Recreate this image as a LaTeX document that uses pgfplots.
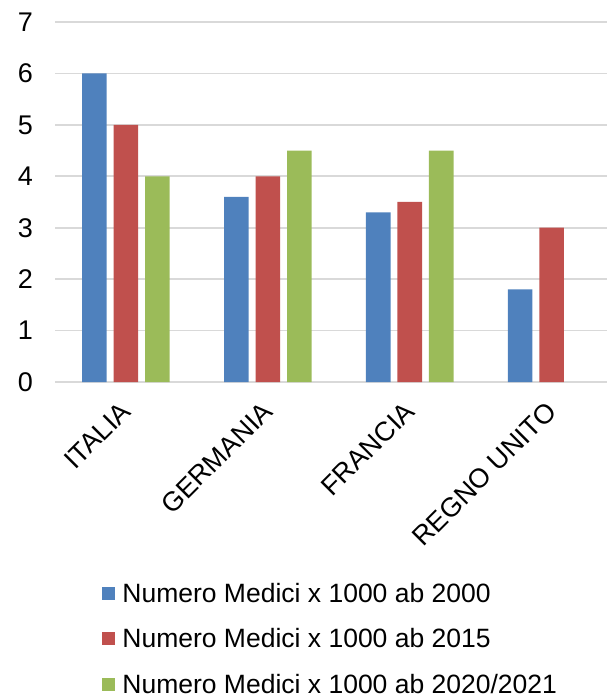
\documentclass[border=0pt]{standalone}
\usepackage{fontspec}
\setmainfont{Liberation Sans}
\usepackage{pgfplots}
\pgfplotsset{compat=1.18}

\definecolor{serA}{HTML}{4F81BD}
\definecolor{serB}{HTML}{C0504D}
\definecolor{serC}{HTML}{9BBB59}
\definecolor{gridgray}{HTML}{D9D9D9}

\begin{document}
\begin{tikzpicture}[x=1pt,y=1pt]
\useasboundingbox (0,0) rectangle (607,696);
\begin{axis}[
  at={(55pt,314pt)}, anchor=south west,
  scale only axis, width=552pt, height=360pt,
  xmin=-0.5, xmax=3.39, ymin=0, ymax=7,
  ytick={0,...,7},
  xtick={0,1,2,3},
  xticklabels={ITALIA,GERMANIA,FRANCIA,REGNO UNITO},
  axis line style={draw=none},
  tick style={draw=none},
  major tick length=0pt,
  ymajorgrids,
  grid style={draw=gridgray, line width=1.6pt},
  ybar, bar width=0.173,
  /pgf/number format/assume math mode=true,
  yticklabel style={font=\fontsize{27}{27}\selectfont, anchor=east, inner sep=0pt, xshift=-22pt},
  xticklabel style={font=\fontsize{27}{27}\selectfont, inner sep=0pt, xshift=-7pt, yshift=-18pt, rotate=45, anchor=north east},
  legend style={draw=none, fill=none, at={(0.0792,-0.552)}, anchor=north west,
    font=\fontsize{26.5}{26.5}\selectfont, row sep=25pt, column sep=7.5pt,
    nodes={inner sep=0pt}},
  legend cell align=left,
  legend image code/.code={\fill[#1] (0pt,-6.5pt) rectangle (13pt,6.5pt);},
]
\addplot[fill=serA, draw=none, bar shift=-0.222] coordinates {(0,6) (1,3.6) (2,3.3) (3,1.8)};
\addplot[fill=serB, draw=none, bar shift=0] coordinates {(0,5) (1,4) (2,3.5) (3,3)};
\addplot[fill=serC, draw=none, bar shift=0.222] coordinates {(0,4) (1,4.5) (2,4.5)};
\legend{Numero Medici x 1000 ab 2000, Numero Medici x 1000 ab 2015, Numero Medici x 1000 ab 2020\smash{/}2021}
\end{axis}
\end{tikzpicture}
\end{document}
